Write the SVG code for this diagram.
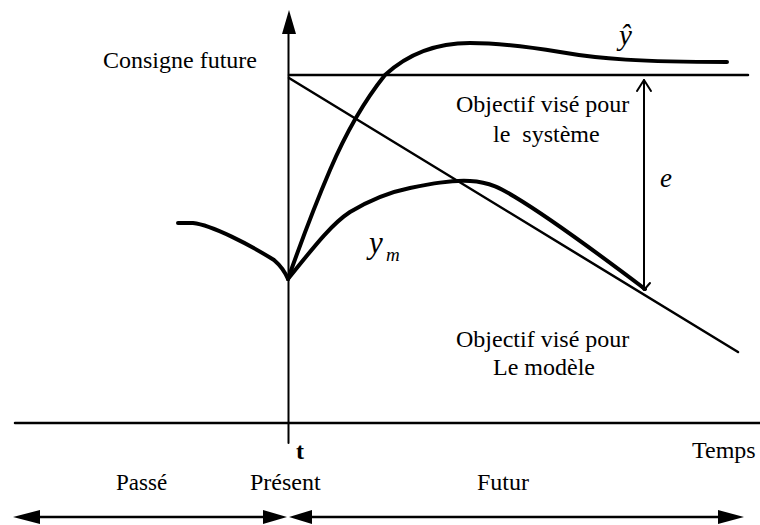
<svg xmlns="http://www.w3.org/2000/svg" width="760" height="525" viewBox="0 0 760 525">
<style>
text{font-family:"Liberation Serif","Times New Roman",serif;font-size:24px;fill:#000}
.it{font-style:italic}
.ln{fill:none;stroke:#000;stroke-linecap:round;stroke-linejoin:round}
.th{stroke-width:4}
.md{stroke-width:2.5}
.tn{stroke-width:2}
.ah{fill:#000;stroke:none}
</style>
<rect width="760" height="525" fill="#fff"/>
<g id="connectors">
  <!-- vertical axis -->
  <line class="ln tn" x1="288.5" y1="28" x2="288.5" y2="443"/>
  <polygon class="ah" points="289,10 282,34 296,34"/>
  <!-- time axis -->
  <line class="ln md" x1="15" y1="423" x2="760" y2="423"/>
  <!-- setpoint -->
  <line class="ln md" x1="289" y1="75" x2="748" y2="75"/>
  <!-- model objective diagonal -->
  <line class="ln md" x1="289" y1="78" x2="738" y2="352"/>
  <!-- past -->
  <path class="ln th" d="M178,223 L193,223 C212,225 250,245 274,260 C281,266 285,272 288,279"/>
  <!-- y hat -->
  <path class="ln th" d="M288,279 C300,245 315,205 330,170 C345,135 365,100 385,75 C410,52 440,43 470,43 C500,43 530,47 560,52 C600,59 640,62 727,62"/>
  <!-- y_m -->
  <path class="ln th" d="M288,279 C310,252 330,225 350,212 C370,200 390,192 410,188 C430,184 450,180 470,181 C490,182 502,189 515,197 C545,215 600,255 645,289"/>
  <!-- e arrow -->
  <line class="ln tn" x1="644" y1="80" x2="644" y2="288"/>
  <polyline class="ln tn" points="637,91 644,80 651,91"/>
  <polyline class="ln tn" points="638,283 644,290 650,283"/>
  <!-- bottom arrows -->
  <line class="ln md" x1="30" y1="517" x2="275" y2="517"/>
  <polygon class="ah" points="13,517 40,510 40,524"/>
  <polygon class="ah" points="287,517 263,510 263,524"/>
  <line class="ln md" x1="300" y1="517" x2="730" y2="517"/>
  <polygon class="ah" points="289,517 312,510 312,524"/>
  <polygon class="ah" points="744,517 718,510 718,524"/>
</g>
<g id="consigne"><text x="103" y="68">Consigne future</text></g>
<g id="yhat-label"><text class="it" x="619" y="45" style="font-size:29px">ŷ</text></g>
<g id="obj-systeme">
  <text x="456" y="112">Objectif visé pour</text>
  <text x="493" y="142" xml:space="preserve">le  système</text>
</g>
<g id="e-label"><text class="it" x="660" y="187" style="font-size:27px">e</text></g>
<g id="ym-label"><text class="it" x="369" y="253" style="font-size:31px">y</text><text class="it" x="386" y="261" style="font-size:19px">m</text></g>
<g id="obj-modele">
  <text x="456" y="347">Objectif visé pour</text>
  <text x="493" y="375">Le modèle</text>
</g>
<g id="t-label"><text x="296" y="459" font-weight="bold">t</text></g>
<g id="temps"><text x="692" y="458">Temps</text></g>
<g id="passe"><text x="116" y="490" style="font-size:23px">Passé</text></g>
<g id="present"><text x="250" y="490">Présent</text></g>
<g id="futur"><text x="477" y="490">Futur</text></g>
</svg>
